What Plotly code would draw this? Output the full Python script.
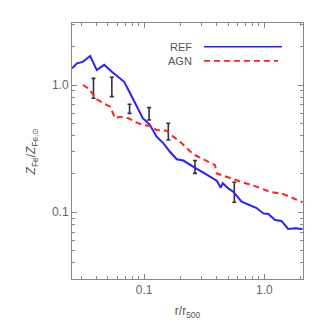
import plotly.graph_objects as go

# REF run (blue solid)
ref_r = [0.0252, 0.0276, 0.0309, 0.0356, 0.0404, 0.0465, 0.0539, 0.0612, 0.0682, 0.0765,
         0.0869, 0.0975, 0.105, 0.112, 0.127, 0.145, 0.164, 0.187, 0.212, 0.241,
         0.274, 0.311, 0.353, 0.402, 0.434, 0.451, 0.502, 0.552, 0.648, 0.760,
         0.863, 0.981, 1.08, 1.23, 1.39, 1.58, 1.80, 2.08]
ref_z = [1.35, 1.48, 1.52, 1.69, 1.31, 1.44, 1.27, 1.15, 1.06, 0.86,
         0.676, 0.548, 0.515, 0.485, 0.393, 0.348, 0.299, 0.261, 0.255, 0.235,
         0.219, 0.205, 0.191, 0.177, 0.156, 0.169, 0.154, 0.145, 0.121, 0.114,
         0.108, 0.098, 0.097, 0.087, 0.0855, 0.074, 0.0748, 0.074]

# AGN run (red dashed)
agn_r = [0.0309, 0.0345, 0.0379, 0.0404, 0.0459, 0.0521, 0.0574, 0.0632, 0.0741, 0.0869,
         0.0987, 0.112, 0.127, 0.154, 0.175, 0.206, 0.257, 0.321, 0.389, 0.402,
         0.519, 0.669, 0.863, 1.11, 1.44, 1.74, 2.08]
agn_z = [1.00, 0.94, 0.835, 0.772, 0.718, 0.676, 0.548, 0.564, 0.548, 0.506,
         0.485, 0.476, 0.443, 0.438, 0.393, 0.348, 0.285, 0.258, 0.235, 0.202,
         0.185, 0.171, 0.159, 0.145, 0.139, 0.129, 0.120]

# observational error bars
obs_r = [0.0379, 0.0539, 0.0757, 0.110, 0.159, 0.265, 0.563]
obs_hi = [1.128, 1.149, 0.705, 0.664, 0.500, 0.255, 0.172]
obs_lo = [0.786, 0.810, 0.599, 0.531, 0.370, 0.202, 0.120]
obs_mid = [(h * l) ** 0.5 for h, l in zip(obs_hi, obs_lo)]

fig = go.Figure()

fig.add_trace(go.Scatter(
    x=obs_r, y=obs_mid, mode="markers",
    marker=dict(size=1, color="rgba(0,0,0,0)"),
    error_y=dict(type="data", symmetric=False,
                 array=[h - m for h, m in zip(obs_hi, obs_mid)],
                 arrayminus=[m - l for m, l in zip(obs_mid, obs_lo)],
                 color="#333333", thickness=1.6, width=2),
    showlegend=False))

fig.add_trace(go.Scatter(x=ref_r, y=ref_z, mode="lines",
                         line=dict(color="#2a1fff", width=2), showlegend=False))
fig.add_trace(go.Scatter(x=agn_r, y=agn_z, mode="lines",
                         line=dict(color="#ff2020", width=2, dash="6px,4px"), showlegend=False))

axis_common = dict(
    type="log", showgrid=False, zeroline=False, automargin=False,
    showline=True, linecolor="#888888", linewidth=1, mirror="allticks",
    ticks="inside", ticklen=5, tickcolor="#888888",
    dtick=1, tickformat=".1f",
    minor=dict(ticks="inside", ticklen=3, tickcolor="#888888", showgrid=False),
    tickfont=dict(family="Liberation Sans", size=12, color="#666666"),
)

fig.update_xaxes(**axis_common, range=[-1.6, 0.322],
                 title=dict(text="r/r<sub>500</sub>", standoff=10,
                            font=dict(family="Liberation Sans", size=12, color="#555555")))
fig.update_yaxes(**axis_common, range=[-1.524, 0.487],
                 title=dict(text="<i>Z</i><sub>Fe</sub>/<i>Z</i><sub>Fe,⊙</sub>", standoff=13,
                            font=dict(family="Liberation Sans", size=12, color="#555555")))

# legend drawn to the right of the labels, as in the original
legend_items = [("REF", "#2a1fff", "solid", 0.907, 0.909),
                ("AGN", "#ff2020", "6px,4px", 0.852, 0.892)]
for name, col, dash, yy, x1 in legend_items:
    fig.add_annotation(x=0.528, y=yy, xref="paper", yref="paper", text=name,
                       showarrow=False, xanchor="right", yanchor="middle",
                       font=dict(family="Liberation Sans", size=11, color="#555555"))
    fig.add_shape(type="line", xref="paper", yref="paper", x0=0.571, x1=x1, y0=yy, y1=yy,
                  line=dict(color=col, width=1.6, dash=dash))

# the page body adds an 8px offset, so the figure is 317px and margins are shifted
fig.update_layout(
    width=317, height=317,
    margin=dict(l=64, r=22, t=15, b=46),
    paper_bgcolor="white", plot_bgcolor="white",
)

fig.write_html("out.html")
